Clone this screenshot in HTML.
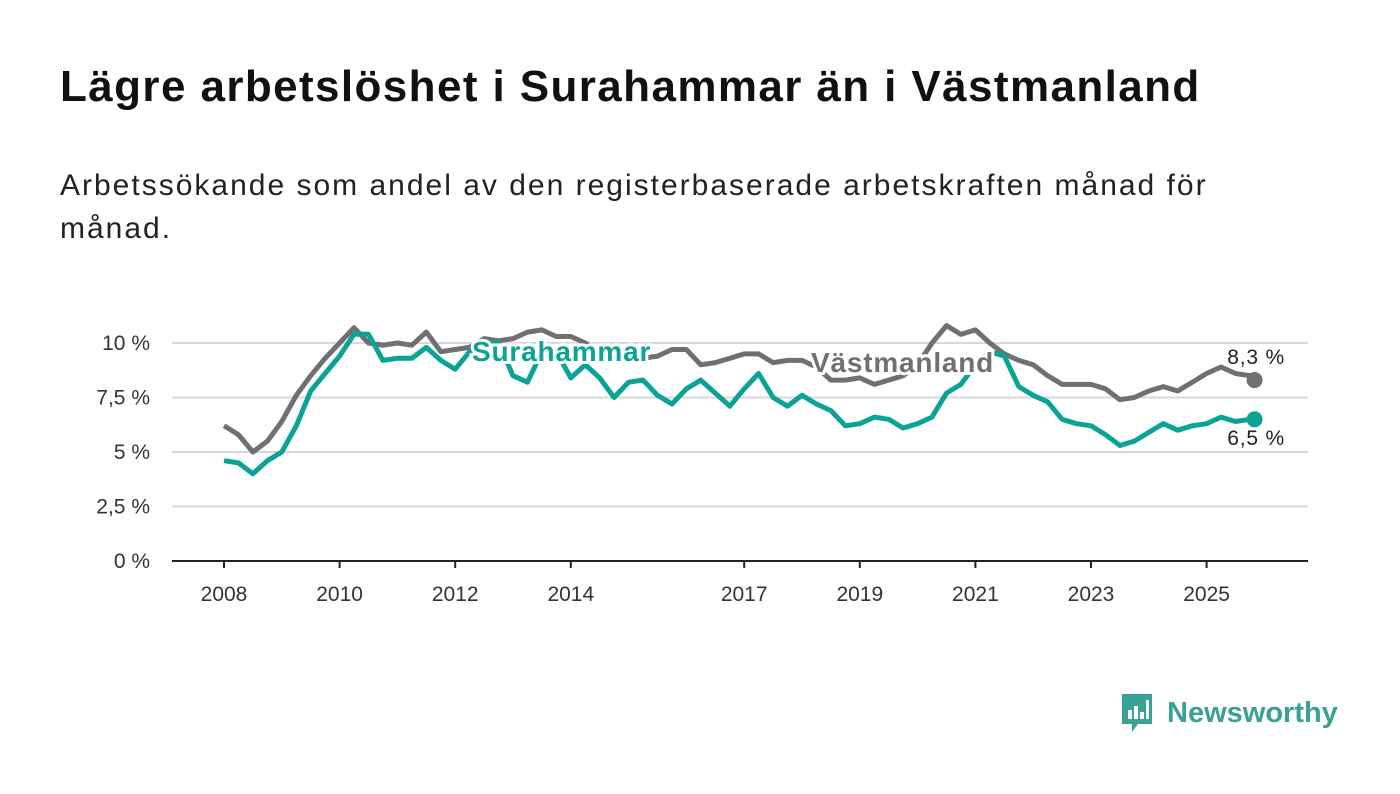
<!DOCTYPE html>
<html><head><meta charset="utf-8"><style>
body{margin:0;width:1400px;height:794px;background:#fff;font-family:"Liberation Sans",sans-serif;overflow:hidden;position:relative}
h1{position:absolute;left:60px;top:62px;margin:0;font-size:44px;letter-spacing:1.4px;font-weight:bold;color:#111}
.sub{position:absolute;left:60px;top:164px;margin:0;font-size:30px;letter-spacing:2px;line-height:43px;color:#222;width:1210px}
svg{position:absolute;left:0;top:0}
</style></head><body>
<h1>Lägre arbetslöshet i Surahammar än i Västmanland</h1>
<p class="sub">Arbetssökande som andel av den registerbaserade arbetskraften månad för månad.</p>
<svg id="chart" width="1400" height="794"></svg>
<div style="position:absolute;left:1119px;top:692px;display:flex;align-items:center">
<svg width="36" height="42" style="position:static"><path d="M3 2h30v30h-14l-6 8v-8h-10z" fill="#3aa197"/><rect x="9" y="18" width="4" height="9" fill="#fff"/><rect x="15" y="14" width="4" height="13" fill="#fff"/><rect x="21" y="20" width="4" height="7" fill="#fff"/><rect x="27" y="8" width="3" height="19" fill="#fff"/></svg>
<span style="font-size:29px;font-weight:bold;color:#3aa197;margin-left:12px">Newsworthy</span></div>
<script>
const categoriesStart = 2008;
const vastmanland = [6.2,5.8,5.0,5.5, 6.4,7.6,8.5,9.3, 10.0,10.7,10.0,9.9, 10.0,9.9,10.5,9.6, 9.7,9.8,10.2,10.1, 10.2,10.5,10.6,10.3, 10.3,10.0,9.6,9.3, 9.3,9.3,9.4,9.7, 9.7,9.0,9.1,9.3, 9.5,9.5,9.1,9.2, 9.2,8.9,8.3,8.3, 8.4,8.1,8.3,8.5, 9.0,10.0,10.8,10.4, 10.6,10.0,9.5,9.2, 9.0,8.5,8.1,8.1, 8.1,7.9,7.4,7.5, 7.8,8.0,7.8,8.2, 8.6,8.9,8.6,8.5, 8.3];
const surahammar = [4.6,4.5,4.0,4.6, 5.0,6.2,7.8,8.6, 9.4,10.4,10.4,9.2, 9.3,9.3,9.8,9.2, 8.8,9.6,10.0,10.0, 8.5,8.2,9.6,9.6, 8.4,9.0,8.4,7.5, 8.2,8.3,7.6,7.2, 7.9,8.3,7.7,7.1, 7.9,8.6,7.5,7.1, 7.6,7.2,6.9,6.2, 6.3,6.6,6.5,6.1, 6.3,6.6,7.7,8.1, 9.0,9.6,9.4,8.0, 7.6,7.3,6.5,6.3, 6.2,5.8,5.3,5.5, 5.9,6.3,6.0,6.2, 6.3,6.6,6.4,6.5, 6.5];
const yTicks = [0,2.5,5,7.5,10];
const yTickLabels = ["0 %","2,5 %","5 %","7,5 %","10 %"];
const xTicks = [2008,2010,2012,2014,2017,2019,2021,2023,2025];
const svg=document.getElementById('chart');const NS='http://www.w3.org/2000/svg';
const X=t=>224+(t-2008)*57.8, Y=v=>561-v*21.8;
const tOf=i=>categoriesStart+Math.min(i*0.25,17.83);
function mk(tag,attrs,parent){const e=document.createElementNS(NS,tag);for(const k in attrs)e.setAttribute(k,attrs[k]);(parent||svg).appendChild(e);return e;}
yTicks.forEach((v,i)=>{
 if(v>0){const g=mk('line',{x1:172,x2:1308,y1:Y(v),y2:Y(v),stroke:'#d8d8d8','stroke-width':2});
 
 }
 const t=mk('text',{x:150,y:Y(v)+7,'text-anchor':'end','font-size':21,fill:'#333'});t.textContent=yTickLabels[i];
 
 
});
const ax=mk('line',{x1:172,x2:1308,y1:561,y2:561,stroke:'#222','stroke-width':2});


xTicks.forEach(y=>{
 const l=mk('line',{x1:X(y),x2:X(y),y1:561,y2:568,stroke:'#222','stroke-width':2});
 
 
 const t=mk('text',{x:X(y),y:601,'text-anchor':'middle','font-size':21,fill:'#333'});t.textContent=y;
 
 
});
function line(data,color,name){
 const d=data.map((v,i)=>(i?'L':'M')+X(tOf(i)).toFixed(1)+' '+Y(v).toFixed(1)).join('');
 const p=mk('path',{d,fill:'none',stroke:color,'stroke-width':5,'stroke-linejoin':'round'});
 
 
 const n=data.length-1;
 const c=mk('circle',{cx:X(tOf(n)),cy:Y(data[n]),r:8,fill:color});
 
 
}
line(vastmanland,'#706f74','vastmanland');
line(surahammar,'#0aa396','surahammar');
function label(txt,x,y,color,size,weight,name,anchor){
 const t=mk('text',{x,y,'font-size':size,'font-weight':weight,fill:color,stroke:'#fff','stroke-width':6,'paint-order':'stroke','text-anchor':anchor||'start','letter-spacing':0.8});t.textContent=txt;
 
 
}
label('Surahammar',472,361,'#0aa396',28,'bold','surahammar-label');
label('Västmanland',811,372,'#706f74',28,'bold','vastmanland-label');
label('8,3 %',1285,364,'#222',21,'normal','vastmanland-end-value','end');
label('6,5 %',1285,445,'#222',21,'normal','surahammar-end-value','end');
</script>
</body></html>
